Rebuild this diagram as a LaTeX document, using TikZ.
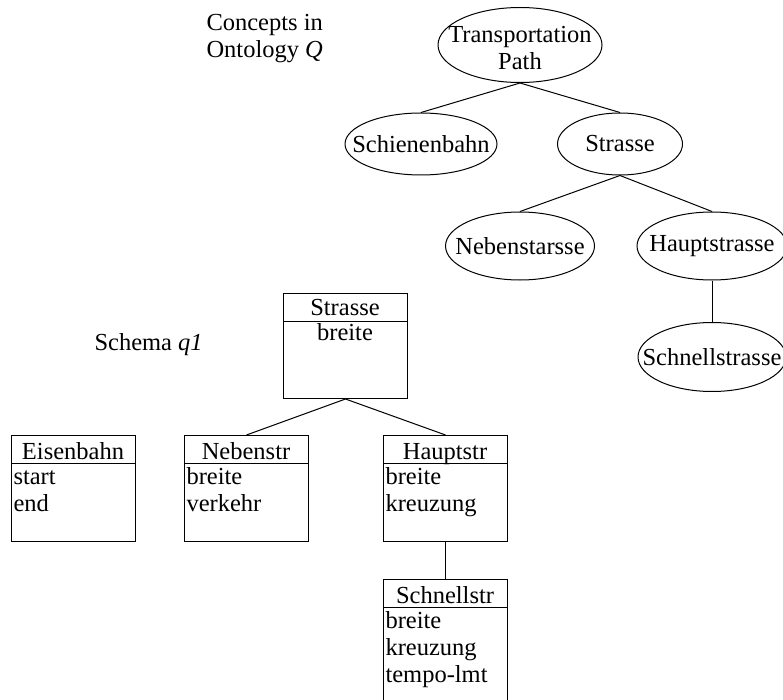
\documentclass[tikz,border=0pt]{standalone}
\usepackage{fontspec}
\setmainfont{Liberation Serif}
\usetikzlibrary{shapes.geometric}

\begin{document}
\begin{tikzpicture}[
  x=1pt, y=-1pt,
  line width=1pt,
  every node/.style={font=\fontsize{24.5}{27}\selectfont, inner sep=0pt},
  concept/.style={draw, ellipse, line width=1pt},
  umlbox/.style={draw, rectangle, minimum width=124pt, anchor=north west},
  attr/.style={anchor=base west},
  head/.style={anchor=base},
]
\clip (0,0) rectangle (783,700);
\fill[white] (0,0) rectangle (783,700);

% ---------- ontology concepts ----------
\node[anchor=west, align=left] (ontlabel) at (206,39) {Concepts in\\Ontology \textit{Q}};

% ellipses of fixed size, labels set on top of them
\node[concept, minimum width=164pt, minimum height=75pt] (tp) at (520,45) {};
\node[align=center] (tpT) at (520,48) {Transportation\\Path};
\node[concept, minimum width=152pt, minimum height=62pt] (schienen) at (421,144) {};
\node (schienenT) at (schienen) {Schienenbahn};
\node[concept, minimum width=125pt, minimum height=62pt] (strasseO) at (620,144) {};
\node (strasseOT) at (strasseO) {Strasse};
\node[concept, minimum width=149pt, minimum height=68pt] (neben) at (520,246) {};
\node (nebenT) at (neben) {Nebenstarsse};
\node[concept, minimum width=150pt, minimum height=68pt] (haupt) at (712,246) {};
\node (hauptT) at (haupt) {Hauptstrasse};
\node[concept, minimum width=148pt, minimum height=69pt] (schnell) at (712,357) {};
\node (schnellT) at (schnell) {Schnellstrasse};

\draw (tp.south) -- (schienen.north);
\draw (tp.south) -- (strasseO.north);
\draw (strasseO.south) -- (neben.north);
\draw (strasseO.south) -- (haupt.north);
\draw (haupt.south) -- (schnell.north);

% ---------- schema q1 ----------
\node[anchor=west] (schemalabel) at (94,345) {Schema \textit{q1}};

% Strasse
\node[umlbox, minimum height=105pt] (sbox) at (283,293) {};
\draw ([yshift=-28pt]sbox.north west) -- ([yshift=-28pt]sbox.north east);
\node[head] (sboxT) at (345,315) {Strasse};
\node[head] (sboxA) at (345,340) {breite};

% Eisenbahn
\node[umlbox, minimum height=106pt] (ebox) at (11,435) {};
\draw ([yshift=-28pt]ebox.north west) -- ([yshift=-28pt]ebox.north east);
\node[head] (eboxT) at (73,459) {Eisenbahn};
\node[attr] (ebox1) at (13,484) {start};
\node[attr] (ebox2) at (13,511) {end};

% Nebenstr
\node[umlbox, minimum height=106pt] (nbox) at (184,435) {};
\draw ([yshift=-28pt]nbox.north west) -- ([yshift=-28pt]nbox.north east);
\node[head] (nboxT) at (246,459) {Nebenstr};
\node[attr] (nbox1) at (186,484) {breite};
\node[attr] (nbox2) at (186,511) {verkehr};

% Hauptstr
\node[umlbox, minimum height=106pt] (hbox) at (383,435) {};
\draw ([yshift=-28pt]hbox.north west) -- ([yshift=-28pt]hbox.north east);
\node[head] (hboxT) at (445,459) {Hauptstr};
\node[attr] (hbox1) at (385,484) {breite};
\node[attr] (hbox2) at (385,511) {kreuzung};

% Schnellstr (runs past the lower edge)
\node[umlbox, minimum height=140pt] (scbox) at (383,579) {};
\draw ([yshift=-28pt]scbox.north west) -- ([yshift=-28pt]scbox.north east);
\node[head] (scboxT) at (445,603) {Schnellstr};
\node[attr] (scbox1) at (385,628) {breite};
\node[attr] (scbox2) at (385,655) {kreuzung};
\node[attr] (scbox3) at (385,682) {tempo-lmt};

\draw (sbox.south) -- (nbox.north);
\draw (sbox.south) -- (hbox.north);
\draw (hbox.south) -- (scbox.north);
\end{tikzpicture}
\end{document}
